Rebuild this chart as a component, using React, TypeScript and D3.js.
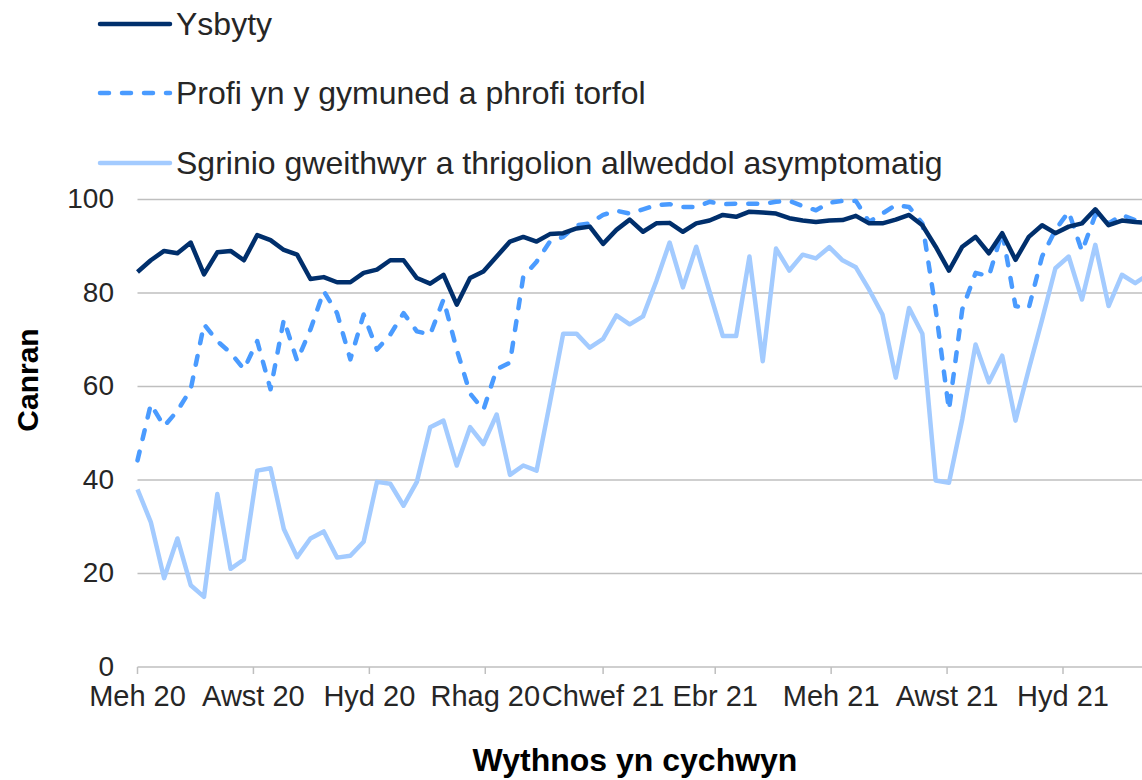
import React from 'react';
import * as d3 from 'd3';

// ---- Data ----
const startDate = new Date(2020, 5, 1); // first week (Mon 1 June 2020)

const seriesNames = [
  'Ysbyty',
  'Profi yn y gymuned a phrofi torfol',
  'Sgrinio gweithwyr a thrigolion allweddol asymptomatig',
];

const ysbyty = [
  84.5, 87, 89, 88.5, 90.8, 84, 88.7, 89, 87, 92.4, 91.3, 89.2, 88.2,
  83, 83.4, 82.3, 82.3, 84.3, 85, 87, 87, 83.2, 82, 83.9, 77.5,
  83.2, 84.6, 87.8, 91, 92, 91, 92.6, 92.8, 93.8, 94.2, 90.5, 93.5, 95.7,
  93.1, 94.9, 95, 93.1, 94.9, 95.5, 96.7, 96.3, 97.4, 97.2, 97, 96, 95.5,
  95.2, 95.5, 95.6, 96.5, 94.9, 94.9, 95.7, 96.7, 94.5, 89.9, 84.8, 89.9,
  92, 88.5, 92.8, 87.1, 92, 94.5, 92.8, 94.2, 94.9, 97.9, 94.5, 95.5, 95.2, 95,
];

const profi = [
  44.2, 56.2, 51.5, 54.8, 59.4, 73.3, 69.7, 67.2, 63.7, 69.7, 59.4, 74.3, 65.5,
  72.2, 80.4, 75.7, 65.8, 75.4, 67.9, 71.1, 75.7, 71.8, 71.1, 78.6, 67.9,
  58.5, 55, 63.7, 65.1, 83.5, 86.7, 91, 92, 94.5, 94.9, 96.7, 97.6, 97,
  97.9, 98.8, 99, 98.4, 98.4, 99.5, 99, 99.1, 99.1, 99.1, 99.5, 99.7, 98.6,
  97.7, 99.3, 99.7, 99.7, 95.2, 97, 98.8, 98.4, 94.9, 76.5, 55, 76.5,
  84.3, 83.6, 93.1, 77.2, 76.8, 87.8, 93.5, 97.4, 88.9, 96.7, 94.9, 96.7, 95.6, 95.5,
];

const sgrinio = [
  38, 31, 19, 27.5, 17.5, 15, 37, 21, 23, 42, 42.5, 29.5, 23.5,
  27.5, 29, 23.4, 23.8, 26.8, 39.6, 39.2, 34.5, 39.6, 51.3, 52.7, 43.1,
  51.3, 47.7, 54, 41.1, 43.1, 42, 56.5, 71.3, 71.3, 68.3, 70.2, 75.2, 73.3,
  75, 82.5, 90.8, 81.2, 89.9, 80.3, 70.8, 70.8, 87.8, 65.4, 89.5, 84.8, 88.2,
  87.4, 89.8, 87, 85.5, 80.7, 75.4, 61.9, 76.8, 71.3, 39.9, 39.4, 53,
  69, 60.9, 66.6, 52.7, 63.7, 74.3, 85.3, 87.8, 78.6, 90.3, 77.2, 83.9, 82.1, 84,
];

const tickDates = [
  new Date(2020, 5, 1), new Date(2020, 7, 1), new Date(2020, 9, 1), new Date(2020, 11, 1),
  new Date(2021, 1, 1), new Date(2021, 3, 1), new Date(2021, 5, 1), new Date(2021, 7, 1),
  new Date(2021, 9, 1),
];
const tickLabels = [
  'Meh 20', 'Awst 20', 'Hyd 20', 'Rhag 20', 'Chwef 21', 'Ebr 21', 'Meh 21', 'Awst 21', 'Hyd 21',
];
const yTicks = [0, 20, 40, 60, 80, 100];

const colors = ['#002F6C', '#4A9BFF', '#A3CBFF'];
const dashes = [null, '9 13', null];

export default function App() {
  const W = 1142;
  const H = 780;
  const left = 137.5;
  const top = 199.5;
  const bottom = 667;

  const dates = ysbyty.map((_, i) => d3.timeDay.offset(startDate, 7 * i));
  const x = d3.scaleTime().domain([startDate, new Date(2021, 9, 1)]).range([left, 1063]);
  const y = d3.scaleLinear().domain([0, 100]).range([bottom, top]);

  const line = d3
    .line<number>()
    .x((_, i) => x(dates[i]))
    .y((d) => y(d));

  const allSeries = [ysbyty, profi, sgrinio];
  const font = '"Liberation Sans", Arial, sans-serif';
  const legendY = [24, 93, 163];

  return (
    <svg
      width={W}
      height={H}
      style={{ position: 'absolute', left: 0, top: 0, background: '#fff' }}
      fontFamily={font}
    >
      {/* gridlines */}
      {yTicks.map((t) => (
        <line key={t} x1={left} x2={W} y1={y(t)} y2={y(t)} stroke="#BFBFBF" strokeWidth={1.5} />
      ))}
      {/* x ticks */}
      {tickDates.map((d, i) => (
        <line key={i} x1={x(d)} x2={x(d)} y1={bottom} y2={bottom + 7} stroke="#BFBFBF" strokeWidth={1.5} />
      ))}
      {/* y tick labels */}
      {yTicks.map((t) => (
        <text key={t} x={114} y={y(t) - 1} textAnchor="end" dominantBaseline="central" fontSize={28} fill="#262626">
          {t}
        </text>
      ))}
      {/* x tick labels */}
      {tickDates.map((d, i) => (
        <text key={i} x={x(d)} y={696} textAnchor="middle" dominantBaseline="central" fontSize={29} fill="#262626">
          {tickLabels[i]}
        </text>
      ))}
      {/* axis titles */}
      <text x={635} y={760} textAnchor="middle" dominantBaseline="central" fontSize={32} fontWeight="bold" fill="#000">
        Wythnos yn cychwyn
      </text>
      <text
        transform={`translate(27, 380) rotate(-90)`}
        textAnchor="middle"
        dominantBaseline="central"
        fontSize={30}
        fontWeight="bold"
        fill="#000"
      >
        Canran
      </text>
      {/* series */}
      {[2, 1, 0].map((k) => (
        <path
          key={k}
          d={line(allSeries[k]) || ''}
          fill="none"
          stroke={colors[k]}
          strokeWidth={4.5}
          strokeDasharray={dashes[k] || undefined}
          strokeLinecap={dashes[k] ? 'round' : 'butt'}
          strokeLinejoin="round"
        />
      ))}
      {/* legend */}
      {seriesNames.map((n, k) => (
        <g key={n}>
          <line
            x1={100}
            x2={170}
            y1={legendY[k]}
            y2={legendY[k]}
            stroke={colors[k]}
            strokeWidth={4.5}
            strokeDasharray={dashes[k] || undefined}
            strokeLinecap="round"
          />
          <text x={176} y={legendY[k]} dominantBaseline="central" fontSize={32} fill="#262626">
            {n}
          </text>
        </g>
      ))}
    </svg>
  );
}
